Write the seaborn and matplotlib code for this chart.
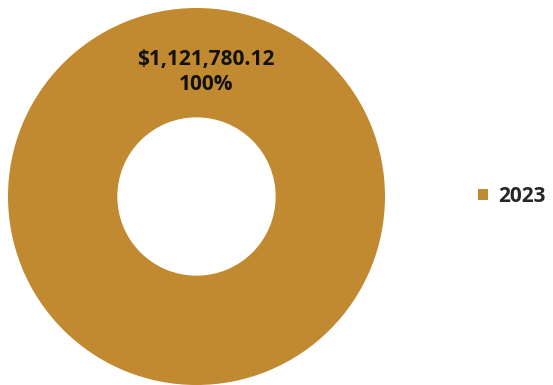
import matplotlib
matplotlib.use("Agg")
import matplotlib.pyplot as plt
import seaborn as sns

# data
years = ["2023"]
amounts = [1121780.12]
colors = ["#C18A30"]

sns.set_style("white")
plt.rcParams['font.family'] = ['Open Sans', 'DejaVu Sans']

fig = plt.figure(figsize=(5.53, 3.85), dpi=100)
ax = fig.add_axes([8 / 553, 0 / 385, 377 / 553, 377 / 385])

total = sum(amounts)


def fmt_label(pct):
    val = pct * total / 100
    return "${:,.2f}\n{:.0f}%".format(val, pct)


wedges, texts, autotexts = ax.pie(
    amounts, colors=colors, startangle=-90, counterclock=True,
    radius=1, autopct=fmt_label, pctdistance=0.66,
    wedgeprops=dict(width=0.58, edgecolor="none"),
    textprops=dict(fontsize=15, fontweight="bold", color="#111111", linespacing=1.2),
)
# label sits a little right of centre in the original
for t in autotexts:
    t.set_x(t.get_position()[0] + 0.05)
ax.set_aspect("equal")
ax.set_xlim(-1, 1)
ax.set_ylim(-1, 1)

# legend on the right
fig.legend(wedges, years, loc="center left", bbox_to_anchor=(0.83, 0.49),
           frameon=False, handlelength=0.5, handleheight=0.5, handletextpad=0.5,
           prop=dict(size=15, weight="bold"))

fig.savefig("out.png", dpi=100)
